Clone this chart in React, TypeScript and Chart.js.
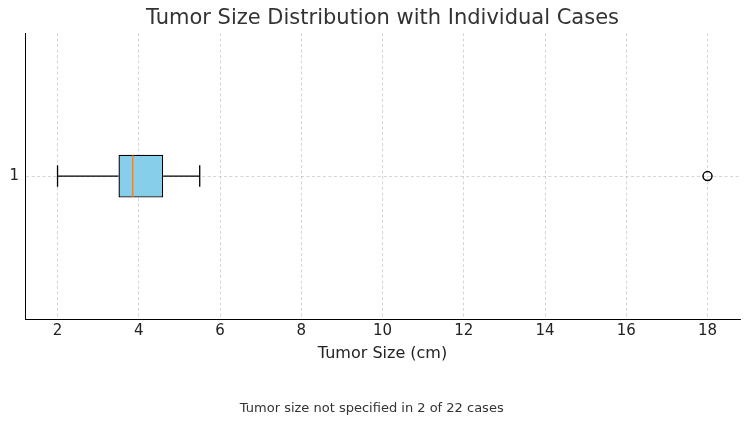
import React, { useEffect, useRef } from "react";
import { Chart, registerables } from "chart.js";

Chart.register(...registerables);

const categories = ["1"];
const whiskerLow = [2.0];
const boxLow = [3.5];
const medians = [3.85];
const boxHigh = [4.6];
const whiskerHigh = [5.5];
const outliers = [18];
const xTicks = [2, 4, 6, 8, 10, 12, 14, 16, 18];

const titleText = "Tumor Size Distribution with Individual Cases";
const xTitle = "Tumor Size (cm)";
const footnote = "Tumor size not specified in 2 of 22 cases";

const FONT = "'DejaVu Sans', sans-serif";

const boxPlugin = {
  id: "boxWhiskers",
  afterDatasetsDraw(chart: any) {
    const ctx = chart.ctx;
    const xs = chart.scales.x;
    const ys = chart.scales.y;
    const meta = chart.getDatasetMeta(0);
    categories.forEach((c, i) => {
      const el = meta.data[i];
      const h = el ? el.height : 40;
      const yc = ys.getPixelForValue(i);
      const lo = xs.getPixelForValue(whiskerLow[i]);
      const q1 = xs.getPixelForValue(boxLow[i]);
      const q3 = xs.getPixelForValue(boxHigh[i]);
      const hi = xs.getPixelForValue(whiskerHigh[i]);
      const md = xs.getPixelForValue(medians[i]);
      ctx.save();
      ctx.strokeStyle = "#000";
      ctx.lineWidth = 1.3;
      ctx.setLineDash([]);
      ctx.beginPath();
      ctx.moveTo(lo, yc);
      ctx.lineTo(q1, yc);
      ctx.moveTo(q3, yc);
      ctx.lineTo(hi, yc);
      ctx.moveTo(lo, yc - h / 4);
      ctx.lineTo(lo, yc + h / 4);
      ctx.moveTo(hi, yc - h / 4);
      ctx.lineTo(hi, yc + h / 4);
      ctx.stroke();
      ctx.strokeStyle = "#e8853d";
      ctx.lineWidth = 1.5;
      ctx.beginPath();
      ctx.moveTo(md, yc - h / 2 + 0.75);
      ctx.lineTo(md, yc + h / 2 - 0.75);
      ctx.stroke();
      ctx.restore();
    });
  },
};

const titlePlugin = {
  id: "plotTitle",
  afterDraw(chart: any) {
    const ctx = chart.ctx;
    const a = chart.chartArea;
    ctx.save();
    ctx.fillStyle = "#333333";
    ctx.font = `21px ${FONT}`;
    ctx.textAlign = "center";
    ctx.textBaseline = "middle";
    ctx.fillText(titleText, (a.left + a.right) / 2, 19);
    ctx.restore();
  },
};

export default function App() {
  const ref = useRef<HTMLCanvasElement>(null);
  useEffect(() => {
    if (!ref.current) return;
    const grid = {
      color: "rgba(176,176,176,0.65)",
      lineWidth: 0.8,
      drawTicks: false,
      offset: false,
    };
    const border = { display: true, color: "#000", width: 1, dash: [3, 2.5] };
    const chart = new Chart(ref.current, {
      type: "bar",
      data: {
        labels: categories,
        datasets: [
          {
            type: "bar",
            data: categories.map((_, i) => [boxLow[i], boxHigh[i]]) as any,
            backgroundColor: "#87CEEB",
            borderColor: "#000",
            borderWidth: 1.4,
            borderSkipped: false,
            barPercentage: 0.15,
            categoryPercentage: 1,
          },
          {
            type: "scatter",
            data: outliers.map((v) => ({ x: v, y: categories[0] })) as any,
            pointStyle: "circle",
            pointRadius: 4.5,
            backgroundColor: "rgba(0,0,0,0)",
            borderColor: "#000",
            borderWidth: 1.5,
          } as any,
        ],
      },
      options: {
        indexAxis: "y",
        animation: false,
        responsive: false,
        maintainAspectRatio: false,
        layout: { padding: { left: 3.5, right: 10, top: 33, bottom: 0 } },
        plugins: {
          legend: { display: false },
          tooltip: { enabled: false },
          title: { display: false },
          subtitle: {
            display: true,
            position: "bottom",
            text: footnote,
            color: "#333333",
            font: { family: FONT, size: 13, weight: "normal" },
            padding: { top: 37, bottom: 9 },
          },
        },
        scales: {
          x: {
            type: "linear",
            min: 1.2,
            max: 18.8,
            afterBuildTicks: (s: any) => {
              s.ticks = xTicks.map((v) => ({ value: v }));
            },
            grid: grid as any,
            border: border as any,
            ticks: {
              color: "#222",
              font: { family: FONT, size: 15 },
              padding: 3,
              maxRotation: 0,
              autoSkip: false,
            },
            title: {
              display: true,
              text: xTitle,
              color: "#222",
              font: { family: FONT, size: 16 },
              padding: { top: 1, bottom: 0 },
            },
          },
          y: {
            type: "category",
            offset: true,
            grid: grid as any,
            border: border as any,
            ticks: {
              color: "#222",
              font: { family: FONT, size: 15 },
              padding: 6,
            },
          },
        },
      },
      plugins: [boxPlugin, titlePlugin],
    });
    return () => chart.destroy();
  }, []);
  return (
    <div style={{ position: "fixed", left: 0, top: 0, width: 750, height: 425, background: "#fff" }}>
      <canvas ref={ref} width={750} height={425} style={{ width: 750, height: 425 }} />
    </div>
  );
}
